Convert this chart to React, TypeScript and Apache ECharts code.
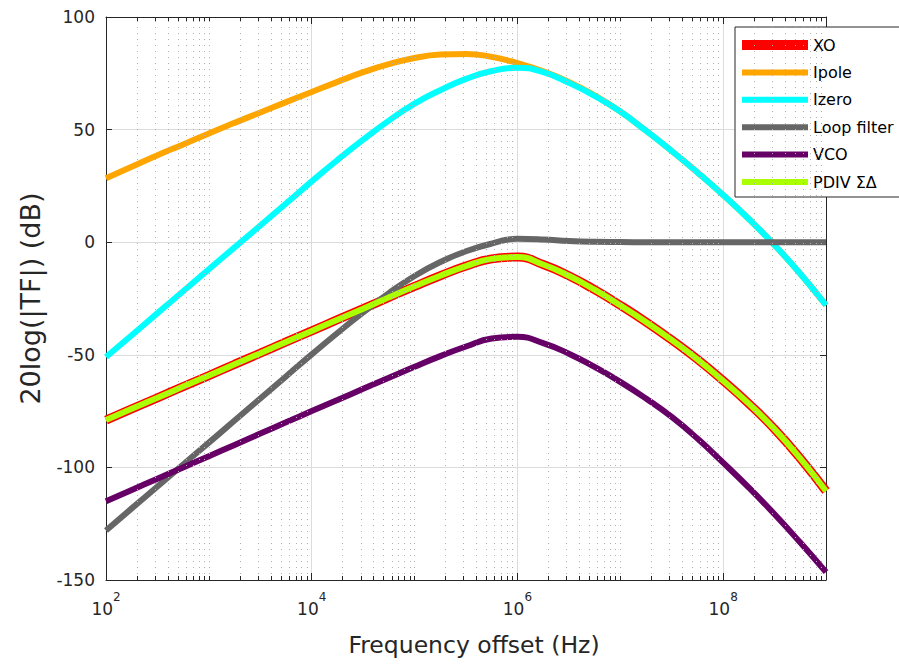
import React, { useEffect, useRef } from "react";
import * as echarts from "echarts";

const FONT = "DejaVu Sans, Liberation Sans, Arial, sans-serif";

// Frequency offsets (Hz), quarter-decade points
const freqs = [
  100, 177.83, 316.23, 562.34, 1000, 1778.3, 3162.3, 5623.4, 10000, 17783, 31623, 56234,
  100000, 177828, 316228, 562341, 1000000, 1778279, 3162278, 5623413, 10000000,
  17782794, 31622777, 56234133, 100000000, 177827941, 316227766, 562341325, 1000000000,
];

const xo = [
  -79, -74, -69.1, -64.1, -59.2, -54.2, -49.3, -44.3, -39.4, -34.4, -29.5, -24.5,
  -19.6, -14.9, -10.6, -7.4, -6.6, -9.9, -14.9, -21.1, -28, -35.4, -43.4, -52, -61.5,
  -71.7, -83, -96, -110.5,
];
const ipole = [
  28.4, 33.5, 38.6, 43.4, 48.3, 53, 57.6, 62.2, 66.7, 71.2, 75.5, 79.1,
  81.8, 83.3, 83.6, 82.3, 79.5, 75.9, 71.2, 65.2, 58, 49.5, 40.5, 31, 21,
  10.3, -1.3, -14, -28,
];
const izero = [
  -51, -41.3, -31.5, -21.8, -12, -2.3, 7.4, 17.2, 27, 36.5, 45.5, 54,
  61.5, 67.5, 72.5, 76, 77.5, 75.5, 70.8, 65, 58, 49.5, 40.5, 31, 21,
  10.3, -1.3, -14, -28,
];
const loopFilter = [
  -128, -118.2, -108.5, -98.7, -89, -79.2, -69.4, -59.6, -49.8, -40.3, -31.2, -22.6,
  -15, -8.8, -4, -0.6, 1.5, 1.2, 0.5, 0.15, 0.05, 0, 0, 0, 0,
  0, 0, 0, 0,
];
const vco = [
  -115, -110, -105, -100, -95, -90, -85, -80, -75, -70.1, -65.1, -60.2,
  -55.3, -50.6, -46.3, -42.8, -42, -44.8, -49.5, -55.4, -62, -69.4, -77.6, -87.2, -97.9,
  -109, -120.8, -133.4, -146.5,
];
const pdivSD = [
  -79, -74, -69.1, -64.1, -59.2, -54.2, -49.3, -44.3, -39.4, -34.4, -29.5, -24.5,
  -19.6, -14.9, -10.6, -7.4, -6.6, -9.9, -14.9, -21.1, -28, -35.4, -43.4, -52, -61.5,
  -71.7, -83, -96, -110.5,
];

const seriesNames = ["XO", "Ipole", "Izero", "Loop filter", "VCO", "PDIV ΣΔ"];
const seriesColors = ["#ff0000", "#ffa500", "#00ffff", "#666666", "#660066", "#aaff00"];
const seriesWidths = [9, 6, 6, 6, 6, 6];
const seriesValues = [xo, ipole, izero, loopFilter, vco, pdivSD];

const yTicks = { min: -150, max: 100, step: 50 };
const xRange = { min: 100, max: 1000000000 };

const AXIS_COLOR = "#262626";

export default function App() {
  const ref = useRef<HTMLDivElement>(null);
  useEffect(() => {
    if (!ref.current) return;
    const chart = echarts.init(ref.current, null, { renderer: "svg" });

    // minor log positions (2..9 x 10^d and the unlabelled odd decades)
    const minor: number[] = [];
    for (let d = 2; d <= 8; d++) {
      for (let m = 1; m <= 9; m++) {
        if (m === 1 && d % 2 === 0) continue;
        minor.push(m * Math.pow(10, d));
      }
    }
    const majors = [1e4, 1e6, 1e8];
    const minorLen = 4 / 2.252;
    const majorLen = 7 / 2.252;

    const gridLines = minor.map((f) => ({ xAxis: f }));
    const tickLines: any[] = [];
    minor.forEach((f) => {
      tickLines.push([{ coord: [f, yTicks.min] }, { coord: [f, yTicks.min + minorLen] }]);
      tickLines.push([{ coord: [f, yTicks.max] }, { coord: [f, yTicks.max - minorLen] }]);
    });
    majors.forEach((f) => {
      tickLines.push([{ coord: [f, yTicks.min] }, { coord: [f, yTicks.min + majorLen] }]);
      tickLines.push([{ coord: [f, yTicks.max] }, { coord: [f, yTicks.max - majorLen] }]);
    });

    const thinIcon = "path://M0,0H66V6H0Z";

    const option: any = {
      animation: false,
      textStyle: { fontFamily: FONT },
      grid: { left: 106, top: 17, width: 720, height: 563, containLabel: false },
      legend: {
        orient: "vertical",
        left: 735,
        top: 27,
        itemWidth: 66,
        itemHeight: 10,
        itemGap: 9.4,
        padding: [9, 8, 6, 7],
        backgroundColor: "#ffffff",
        borderColor: AXIS_COLOR,
        borderWidth: 1,
        borderRadius: 0,
        itemStyle: { borderWidth: 0 },
        textStyle: { fontSize: 16, color: "#000", lineHeight: 18, fontFamily: FONT },
        data: seriesNames.map((n, i) => ({ name: n, icon: i === 0 ? "rect" : thinIcon })),
      },
      xAxis: [
        {
          type: "log",
          logBase: 10,
          min: xRange.min,
          max: xRange.max,
          interval: 2,
          position: "bottom",
          name: "Frequency offset (Hz)",
          nameLocation: "middle",
          nameGap: 53,
          nameTextStyle: { fontSize: 23.5, color: AXIS_COLOR, fontFamily: FONT, padding: [0, 0, 0, 16] },
          axisLine: { show: true, onZero: false, lineStyle: { color: AXIS_COLOR, width: 1 } },
          axisTick: { show: false },
          axisLabel: {
            margin: 11,
            showMaxLabel: false,
            formatter: (v: number) => `{b|10}{s|${Math.round(Math.log10(v))}}`,
            rich: {
              b: { fontSize: 17, color: AXIS_COLOR, fontFamily: FONT, lineHeight: 26, verticalAlign: "bottom" },
              s: { fontSize: 12, color: AXIS_COLOR, fontFamily: FONT, lineHeight: 10, verticalAlign: "top" },
            },
          },
          splitLine: { show: true, lineStyle: { color: "#dcdcdc", width: 1 } },
        },
        {
          type: "log",
          logBase: 10,
          min: xRange.min,
          max: xRange.max,
          interval: 2,
          position: "top",
          axisLine: { show: true, onZero: false, lineStyle: { color: AXIS_COLOR, width: 1 } },
          axisTick: { show: false },
          axisLabel: { show: false },
          splitLine: { show: false },
        },
      ],
      yAxis: [
        {
          type: "value",
          min: yTicks.min,
          max: yTicks.max,
          interval: yTicks.step,
          name: "20log(|TF|) (dB)",
          nameLocation: "middle",
          nameGap: 62,
          nameTextStyle: { fontSize: 27, color: AXIS_COLOR, fontFamily: FONT },
          axisLine: { show: true, onZero: false, lineStyle: { color: AXIS_COLOR, width: 1 } },
          axisTick: { show: true, inside: true, length: 6, lineStyle: { color: AXIS_COLOR } },
          axisLabel: { fontSize: 17, color: AXIS_COLOR, margin: 11, fontFamily: FONT },
          splitLine: { show: true, lineStyle: { color: "#dcdcdc", width: 1 } },
        },
        {
          type: "value",
          min: yTicks.min,
          max: yTicks.max,
          interval: yTicks.step,
          position: "right",
          axisLine: { show: true, onZero: false, lineStyle: { color: AXIS_COLOR, width: 1 } },
          axisTick: { show: true, inside: true, length: 6, lineStyle: { color: AXIS_COLOR } },
          axisLabel: { show: false },
          splitLine: { show: false },
        },
      ],
      series: [
        {
          name: "__grid",
          type: "line",
          data: [],
          silent: true,
          z: 1,
          markLine: {
            silent: true,
            symbol: ["none", "none"],
            label: { show: false },
            animation: false,
            lineStyle: { color: "#b0b0b0", type: [1, 5], width: 1 },
            data: gridLines,
          },
        },
        {
          name: "__ticks",
          type: "line",
          data: [],
          silent: true,
          z: 5,
          markLine: {
            silent: true,
            symbol: ["none", "none"],
            label: { show: false },
            animation: false,
            lineStyle: { color: AXIS_COLOR, type: "solid", width: 1 },
            data: tickLines,
          },
        },
        ...seriesNames.map((n, i) => ({
          name: n,
          type: "line",
          data: freqs.map((f, k) => [f, seriesValues[i][k]]),
          showSymbol: false,
          symbol: "none",
          smooth: 0.5,
          z: 2 + i * 0.01,
          color: seriesColors[i],
          lineStyle: { color: seriesColors[i], width: seriesWidths[i] },
          itemStyle: { color: seriesColors[i], borderWidth: 0 },
        })),
      ],
    };
    chart.setOption(option);
    return () => chart.dispose();
  }, []);
  return (
    <div
      ref={ref}
      style={{ position: "fixed", left: 0, top: 0, width: 899, height: 665, background: "#fff" }}
    />
  );
}
